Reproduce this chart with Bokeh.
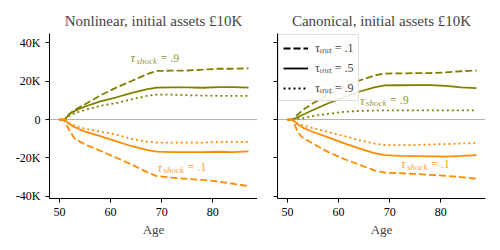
from bokeh.plotting import figure
from bokeh.models import Range1d, FixedTicker, CustomJSTickFormatter, Span, Legend, LegendItem, Label
from bokeh.layouts import row
from bokeh.embed import file_html
from bokeh.resources import INLINE

FONT = "'Liberation Serif', serif"
OLIVE = "#808000"
ORANGE = "#ff8c00"

ages = [50, 51, 52, 53, 55, 58, 61, 64, 67, 69, 72, 75, 78, 81, 84, 87]

# Nonlinear (left panel), values in thousands of pounds
nl_olive_dash = [0, 0, 3, 5, 8, 12.6, 16.5, 20, 23.5, 25.4, 25.5, 25.6, 26, 26.5, 26.5, 26.7]
nl_olive_solid = [0, 0, 3, 4.5, 6.8, 9.5, 11.5, 13.8, 15.8, 16.7, 16.8, 16.8, 16.6, 16.9, 16.9, 16.7]
nl_olive_dot = [0, 0, 2, 3.3, 5, 7.2, 8.5, 10.5, 12.3, 13, 13, 12.7, 12.5, 12.4, 12.4, 12.3]
nl_orange_solid = [0, 0, -2.5, -4, -6.3, -8.6, -11.3, -13.8, -15.8, -16.7, -17, -17, -17, -16.8, -17, -16.6]
nl_orange_dot = [0, 0, -2, -3.2, -4.8, -6.3, -7.8, -10, -11.5, -12, -12, -12, -12, -11.7, -11.7, -11.7]
nl_orange_dash = [0, -0.5, -6, -10, -13, -16.3, -19.8, -23.3, -27.3, -29.5, -30.3, -31, -31.5, -32.3, -33.5, -34.7]

# Canonical (right panel)
c_olive_dash = [0, 0, 2.5, 5, 8.5, 13, 17, 20.3, 23, 24, 24.1, 24.2, 24.3, 24.6, 25.2, 25.6]
c_olive_solid = [0, 0, 1.2, 2.5, 5, 8.5, 11.5, 14.5, 16.8, 17.8, 17.9, 18, 18, 17.6, 16.8, 16.4]
c_olive_dot = [0, 0, 0.3, 0.8, 1.8, 3, 4, 4.5, 4.7, 4.8, 4.8, 4.8, 4.8, 4.8, 4.8, 4.8]
c_orange_solid = [0, 0, -2.5, -4.2, -6.5, -9.3, -12.3, -15, -17.5, -18.6, -19, -19.1, -19.2, -19.3, -19, -18.6]
c_orange_dot = [0, 0, -2, -3, -4.5, -6.5, -8.5, -10.8, -12.5, -13.3, -13.3, -13.3, -13, -12.8, -12.5, -12.2]
c_orange_dash = [0, 0, -6.5, -9.5, -12.5, -17, -20.5, -23.5, -26.5, -27.7, -28, -28.4, -28.9, -29.4, -30, -30.9]

x_ticks = [50, 60, 70, 80]
y_ticks = [-40, -20, 0, 20, 40]
legend_labels = ["τᵢₙᵢₜ = .1", "τᵢₙᵢₜ = .5", "τᵢₙᵢₜ = .9"]

DASH = "7 3"
DOT = "2 3"
LW = 1.8


def make_fig(title, mbl, mbr, show_ylabels):
    p = figure(frame_width=208, frame_height=165, output_backend="svg", toolbar_location=None,
               x_range=Range1d(48.05, 88.75), y_range=Range1d(-41.2, 44.9),
               min_border_left=mbl, min_border_right=mbr, min_border_top=33,
               min_border_bottom=40)
    p.title.text = title
    p.title.text_font = FONT
    p.title.text_font_style = "normal"
    p.title.text_font_size = "15px"
    p.title.align = "center"
    p.xgrid.visible = False
    p.ygrid.visible = False
    p.outline_line_color = None
    p.background_fill_color = "white"
    for ax in (p.xaxis, p.yaxis):
        ax.minor_tick_line_color = None
        ax.major_tick_in = 0
        ax.major_tick_out = 4
        ax.axis_line_color = "black"
        ax.major_tick_line_color = "black"
        ax.major_label_text_font = FONT
        ax.major_label_text_font_size = "12px"
        ax.major_label_text_color = "black"
    p.xaxis.ticker = FixedTicker(ticks=x_ticks)
    p.yaxis.ticker = FixedTicker(ticks=y_ticks)
    if show_ylabels:
        p.yaxis.formatter = CustomJSTickFormatter(code="return tick == 0 ? '0' : tick + 'K';")
    else:
        p.yaxis.formatter = CustomJSTickFormatter(code="return '';")
    p.xaxis.axis_label = "Age"
    p.xaxis.axis_label_text_font = FONT
    p.xaxis.axis_label_text_font_style = "normal"
    p.xaxis.axis_label_text_font_size = "13px"
    p.xaxis.axis_label_standoff = 3
    p.add_layout(Span(location=0, dimension="width", line_color="#b0b0b0",
                      line_width=1, level="underlay"))
    return p


def draw(p, od, os_, odt, rs, rdt, rd):
    p.line(ages, od, line_color=OLIVE, line_width=LW, line_dash=DASH)
    p.line(ages, os_, line_color=OLIVE, line_width=LW)
    p.line(ages, odt, line_color=OLIVE, line_width=LW, line_dash=DOT)
    p.line(ages, rs, line_color=ORANGE, line_width=LW)
    p.line(ages, rdt, line_color=ORANGE, line_width=LW, line_dash=DOT)
    p.line(ages, rd, line_color=ORANGE, line_width=LW, line_dash=DASH)


def shock_label(p, x, y, val, color):
    common = dict(x=x, y=y, text_color=color, text_alpha=0.85, text_font=FONT,
                  text_baseline="middle")
    p.add_layout(Label(text="τ", text_font_size="13px", text_font_style="italic", **common))
    p.add_layout(Label(text="shock", x_offset=6, y_offset=-3, text_font_size="9px",
                       text_font_style="italic", **common))
    p.add_layout(Label(text="= " + val, x_offset=30, text_font_size="12px", **common))


p1 = make_fig("Nonlinear, initial assets £10K", 49, 0, True)
draw(p1, nl_olive_dash, nl_olive_solid, nl_olive_dot, nl_orange_solid, nl_orange_dot, nl_orange_dash)
shock_label(p1, 63.9, 32.3, ".9", OLIVE)
shock_label(p1, 69.2, -25.0, ".1", ORANGE)

p2 = make_fig("Canonical, initial assets £10K", 20, 8, False)
draw(p2, c_olive_dash, c_olive_solid, c_olive_dot, c_orange_solid, c_orange_dot, c_orange_dash)
shock_label(p2, 64.2, 10.0, ".9", OLIVE)
shock_label(p2, 72.2, -23.0, ".1", ORANGE)

r1 = p2.line(ages, c_olive_dash, line_color="black", line_width=LW, line_dash=DASH, visible=False)
r2 = p2.line(ages, c_olive_solid, line_color="black", line_width=LW, visible=False)
r3 = p2.line(ages, c_olive_dot, line_color="black", line_width=LW, line_dash=DOT, visible=False)
legend = Legend(items=[LegendItem(label=legend_labels[0], renderers=[r1]),
                       LegendItem(label=legend_labels[1], renderers=[r2]),
                       LegendItem(label=legend_labels[2], renderers=[r3])],
                location="top_left", background_fill_alpha=0.85,
                border_line_color="#bbbbbb", border_line_width=1,
                label_text_font=FONT, label_text_font_size="12px",
                glyph_width=25, glyph_height=14, label_height=14, spacing=3,
                padding=4, margin=1, label_standoff=7,
                inactive_fill_alpha=0)
p2.add_layout(legend)

layout = row(p1, p2)
open("out.html", "w").write(file_html(layout, INLINE))
